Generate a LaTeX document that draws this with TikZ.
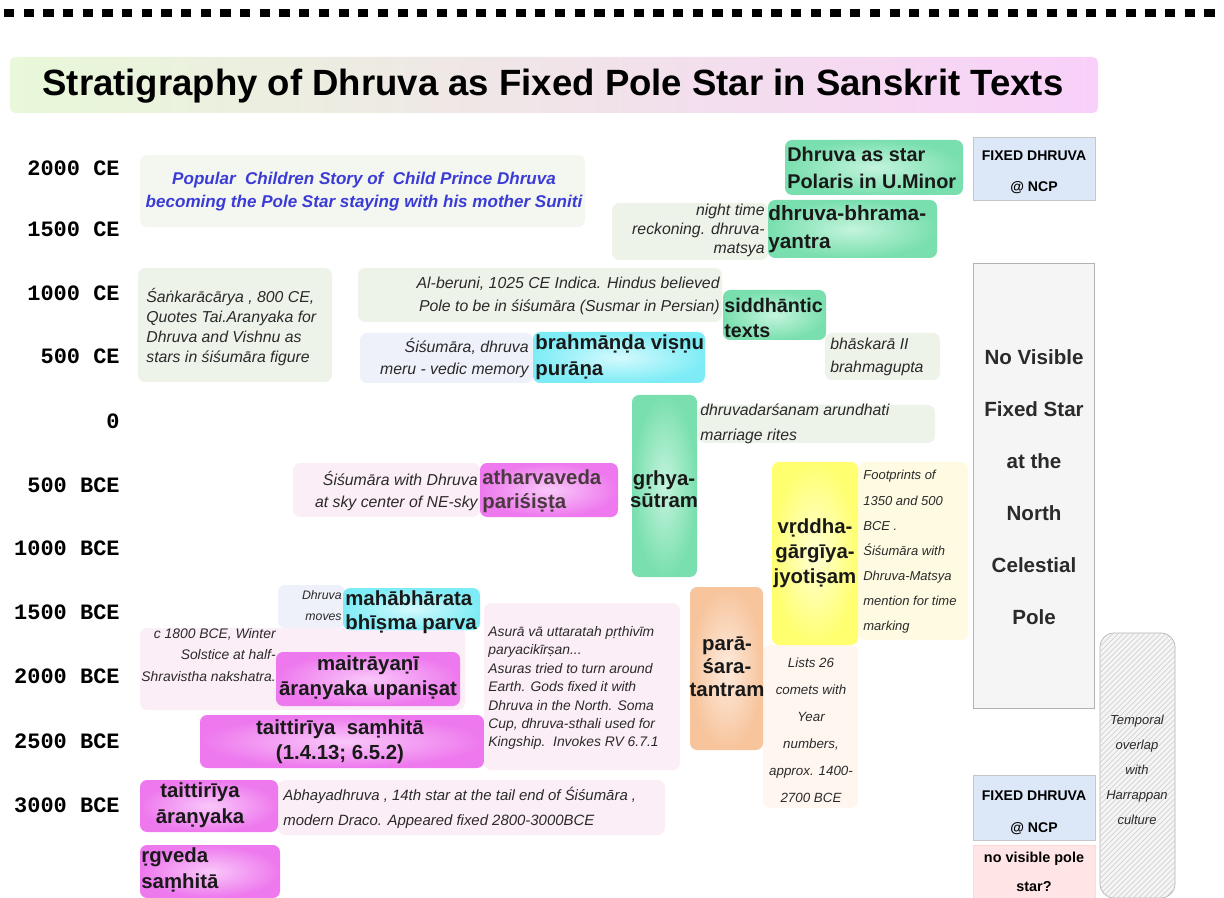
\documentclass[tikz,border=0pt]{standalone}
\usepackage{fontspec}
\setmainfont{Liberation Sans}
\setmonofont{Liberation Mono}
\usepackage{tikz}
\usetikzlibrary{patterns, positioning}

\definecolor{greenD}{HTML}{79DFAE}
\definecolor{greenL}{HTML}{C4F4DD}
\definecolor{magD}{HTML}{EE78EE}
\definecolor{magL}{HTML}{F9C8F9}
\definecolor{cyanD}{HTML}{7EECF6}
\definecolor{cyanL}{HTML}{D4FAFD}
\definecolor{yelD}{HTML}{FFFF70}
\definecolor{yelL}{HTML}{FFFFD4}
\definecolor{peachD}{HTML}{F7C49C}
\definecolor{peachL}{HTML}{FDEBDD}
\definecolor{fixblue}{HTML}{DCE7F7}
\definecolor{noteG}{HTML}{EEF3EA}
\definecolor{noteP}{HTML}{FCEEF7}
\definecolor{noteB}{HTML}{EEF0FA}
\definecolor{noteY}{HTML}{FFFBE2}
\definecolor{noteO}{HTML}{FFF6F0}
\definecolor{titleL}{HTML}{E8F8D8}
\definecolor{titleM}{HTML}{F3EEE8}
\definecolor{titleR}{HTML}{F9D0F9}
\definecolor{storyblue}{HTML}{3B3BD6}
\definecolor{ink}{HTML}{2A2A2A}

\begin{document}
\begin{tikzpicture}[x=0.02cm, y=-0.02cm]

	\tikzstyle{yearlbl}=[anchor=east, inner sep=0pt, font=\ttfamily\bfseries\fontsize{12.5}{14}\selectfont]
	\tikzstyle{note}=[inner sep=0pt, text=ink, font=\itshape\fontsize{9}{13}\selectfont]
	\tikzstyle{lbl}=[inner sep=0pt, text=black!90, font=\bfseries\fontsize{11.6}{15}\selectfont]
	\tikzstyle{greenbox}=[rounded corners=4pt, inner color=greenL, outer color=greenD]
	\tikzstyle{magbox}=[rounded corners=4pt, inner color=magL, outer color=magD]
	\tikzstyle{cyanbox}=[rounded corners=4pt, inner color=cyanL, outer color=cyanD]
	\tikzstyle{notebox}=[rounded corners=4pt]
	\tikzstyle{fixbox}=[fill=fixblue, draw=gray!45]
	
	\useasboundingbox (0,0) rectangle (1224,898);
	
	% dotted rule on top
	\draw[line width=4pt, dash pattern=on 5.8pt off 5.4pt] (4,13) -- (1224,13);
	
	% title
	\shade[rounded corners=3pt, left color=titleL, middle color=titleM, right color=titleR] (10,57) rectangle (1098,113);
	\node (title) at (553,86) [inner sep=0pt, font=\bfseries\fontsize{20.8}{24}\selectfont] {Stratigraphy of Dhruva as Fixed Pole Star in Sanskrit Texts};
	
	% time axis
	\node (y2000ce) at (120,168) [yearlbl] {2000 CE};
	\node (y1500ce) at (120,229) [yearlbl] {1500 CE};
	\node (y1000ce) at (120,293) [yearlbl] {1000 CE};
	\node (y500ce) at (120,356) [yearlbl] {500 CE};
	\node (y0) at (120,421) [yearlbl] {0};
	\node (y500bce) at (120,485) [yearlbl] {500 BCE};
	\node (y1000bce) at (120,548) [yearlbl] {1000 BCE};
	\node (y1500bce) at (120,612) [yearlbl] {1500 BCE};
	\node (y2000bce) at (120,676) [yearlbl] {2000 BCE};
	\node (y2500bce) at (120,741) [yearlbl] {2500 BCE};
	\node (y3000bce) at (120,805) [yearlbl] {3000 BCE};
	
	% backgrounds of the notes
	\fill[notebox, fill=noteG!70] (140,155) rectangle (585,227);
	\fill[notebox, fill=noteG] (612,203) rectangle (768,260);
	\fill[notebox, fill=noteG] (138,268) rectangle (332,382);
	\fill[notebox, fill=noteG] (358,268) rectangle (722,322);
	\fill[notebox, fill=noteB] (360,333) rectangle (533,383);
	\fill[notebox, fill=noteG] (825,333) rectangle (940,380);
	\fill[notebox, fill=noteG] (698,405) rectangle (935,443);
	\fill[notebox, fill=noteP] (293,463) rectangle (480,517);
	\fill[notebox, fill=noteY] (858,462) rectangle (968,640);
	\fill[notebox, fill=noteB] (278,585) rectangle (345,628);
	\fill[notebox, fill=noteP] (140,628) rectangle (465,710);
	\fill[notebox, fill=noteP] (484,603) rectangle (680,770);
	\fill[notebox, fill=noteO] (763,645) rectangle (858,808);
	\fill[notebox, fill=noteP] (278,780) rectangle (665,835);
	
	% coloured text boxes
	\shade[greenbox] (785,140) rectangle (963,195);
	\shade[greenbox] (768,200) rectangle (937,258);
	\shade[greenbox] (723,290) rectangle (826,340);
	\shade[cyanbox] (533,332) rectangle (705,383);
	\shade[greenbox] (632,395) rectangle (697,577);
	\shade[magbox] (480,463) rectangle (618,517);
	\shade[rounded corners=4pt, inner color=yelL, outer color=yelD] (772,462) rectangle (858,645);
	\shade[cyanbox] (343,588) rectangle (480,630);
	\shade[rounded corners=4pt, inner color=peachL, outer color=peachD] (690,587) rectangle (763,750);
	\shade[magbox] (276,652) rectangle (460,706);
	\shade[magbox] (200,715) rectangle (484,768);
	\shade[magbox] (140,780) rectangle (278,832);
	\shade[magbox] (140,845) rectangle (280,898);
	
	% right hand column
	\draw[fixbox] (973,137) rectangle (1095,200);
	\draw[fill=gray!8, draw=gray!60] (973,263) rectangle (1094,708);
	\draw[fixbox] (973,775) rectangle (1095,840);
	\draw[fill=red!10, draw=red!15] (973,845) rectangle (1095,898);
	\draw[rounded corners=8pt, fill=gray!8, draw=gray!60] (1100,633) rectangle (1175,898);
	\fill[rounded corners=8pt, pattern=north east lines, pattern color=gray!35] (1100,633) rectangle (1175,898);
	
	% texts
	\node (story) at (364,192) [inner sep=0pt, align=center, text=storyblue, font=\bfseries\itshape\fontsize{9.7}{13}\selectfont] {Popular\ \ Children Story of\ \ Child Prince Dhruva\\becoming the Pole Star staying with his mother Suniti};
	
	\node (polaris) at (787,168) [lbl, anchor=west, align=left, font=\bfseries\fontsize{11.3}{15}\selectfont] {Dhruva as star\\Polaris in U.Minor};
	\node (fixtop) at (1034,172) [inner sep=0pt, align=center, font=\bfseries\fontsize{8}{17.6}\selectfont] {FIXED DHRUVA\\@ NCP};
	
	\node (nighttime) at (765,230) [note, anchor=east, align=right, font=\itshape\fontsize{9}{10.8}\selectfont] {night time\\reckoning. dhruva-\\matsya};
	\node (bhrama) at (768,229) [lbl, anchor=west, align=left, font=\bfseries\fontsize{11.8}{16}\selectfont] {dhruva-bhrama-\\yantra};
	
	\node (shankara) at (146,327) [note, anchor=west, align=left, font=\itshape\fontsize{9}{11.4}\selectfont] {Śaṅkarācārya , 800 CE,\\Quotes Tai.Aranyaka for\\Dhruva and Vishnu as\\stars in śiśumāra figure};
	\node (beruni) at (720,296) [note, anchor=east, align=right] {Al-beruni, 1025 CE Indica. Hindus believed\\Pole to be in śiśumāra (Susmar in Persian)};
	\node (siddhanta) at (724,318) [lbl, anchor=west, align=left, font=\bfseries\fontsize{11.2}{14.5}\selectfont] {siddhāntic\\texts};
	\node (meru) at (529,358) [note, anchor=east, align=right] {Śiśumāra, dhruva\\meru - vedic memory};
	\node (purana) at (535,357) [lbl, anchor=west, align=left] {brahmāṇḍa viṣṇu\\purāṇa};
	\node (bhaskara) at (830,357) [note, anchor=west, align=left] {bhāskarā II\\brahmagupta};
	
	\node (novisible) at (1034,487) [inner sep=0pt, align=center, text=ink, font=\bfseries\fontsize{11.7}{29.6}\selectfont] {No Visible\\Fixed Star\\at the\\North\\Celestial\\Pole};
	
	\node (grhya) at (664,489) [lbl, align=center, font=\bfseries\fontsize{11.6}{12.5}\selectfont] {gṛhya-\\sūtram};
	\node (arundhati) at (700,424) [note, anchor=west, align=left, font=\itshape\fontsize{9}{14}\selectfont] {dhruvadarśanam arundhati\\marriage rites};
	\node (skycenter) at (478,491) [note, anchor=east, align=right] {Śiśumāra with Dhruva\\at sky center of NE-sky};
	\node (atharva) at (482,491) [lbl, anchor=west, align=left, text=black!70!magenta!60!black, font=\bfseries\fontsize{11.6}{13.5}\selectfont] {atharvaveda\\pariśiṣṭa};
	\node (vrddha) at (815,553) [lbl, align=center, font=\bfseries\fontsize{11.6}{14.2}\selectfont] {vṛddha-\\gārgīya-\\jyotiṣam};
	\node (footprints) at (863,552) [note, anchor=west, align=left, font=\itshape\fontsize{7.4}{14.3}\selectfont] {Footprints of\\1350 and 500\\BCE .\\Śiśumāra with\\Dhruva-Matsya\\mention for time\\marking};
	
	\node (moves) at (342,606) [note, anchor=east, align=right, font=\itshape\fontsize{7}{12}\selectfont] {Dhruva\\moves};
	\node (bhishma) at (345,612) [lbl, anchor=west, align=left, font=\bfseries\fontsize{11.6}{13.7}\selectfont] {mahābhārata\\bhīṣma parva};
	\node (winter) at (276,655) [note, anchor=east, align=right, font=\itshape\fontsize{7.9}{12.5}\selectfont] {c 1800 BCE, Winter\\Solstice at half-\\Shravistha nakshatra.};
	\node (maitra) at (368,678) [lbl, align=center, font=\bfseries\fontsize{11.6}{14}\selectfont] {maitrāyaṇī\\āraṇyaka upaniṣat};
	\node (tsamhita) at (340,742) [lbl, align=center, font=\bfseries\fontsize{11.6}{14}\selectfont] {taittirīya\ \ saṃhitā\\(1.4.13; 6.5.2)};
	\node (asura) at (488,688) [note, anchor=west, align=left, font=\itshape\fontsize{7.9}{10.5}\selectfont] {Asurā vā uttaratah pṛthivīm\\paryacikīrṣan...\\Asuras tried to turn around\\Earth. Gods fixed it with\\Dhruva in the North. Soma\\Cup, dhruva-sthali used for\\Kingship.\ \ Invokes RV 6.7.1};
	\node (parashara) at (727,667) [lbl, align=center, font=\bfseries\fontsize{11.6}{13}\selectfont] {parā-\\śara-\\tantram};
	\node (comets) at (811,730) [note, align=center, font=\itshape\fontsize{7.6}{15.4}\selectfont] {Lists 26\\comets with\\Year\\numbers,\\approx. 1400-\\2700 BCE};
	
	\node (taranyaka) at (200,805) [lbl, align=center, font=\bfseries\fontsize{11.6}{14.5}\selectfont] {taittirīya\\āraṇyaka};
	\node (abhaya) at (283,808) [note, anchor=west, align=left, font=\itshape\fontsize{8.5}{14}\selectfont] {Abhayadhruva , 14th star at the tail end of Śiśumāra ,\\modern Draco. Appeared fixed 2800-3000BCE};
	\node (rgveda) at (141,870) [lbl, anchor=west, align=left, font=\bfseries\fontsize{11.6}{14.5}\selectfont] {ṛgveda\\saṃhitā};
	
	\node (fixbot) at (1034,813) [inner sep=0pt, align=center, font=\bfseries\fontsize{8}{18}\selectfont] {FIXED DHRUVA\\@ NCP};
	\node (nopole) at (1034,872) [inner sep=0pt, align=center, font=\bfseries\fontsize{8.2}{16.5}\selectfont] {no visible pole\\star?};
	\node (harappa) at (1137,770) [note, align=center, font=\itshape\fontsize{7.4}{14.2}\selectfont] {Temporal\\overlap\\with\\Harrappan\\culture};
	
\end{tikzpicture}
\end{document}
